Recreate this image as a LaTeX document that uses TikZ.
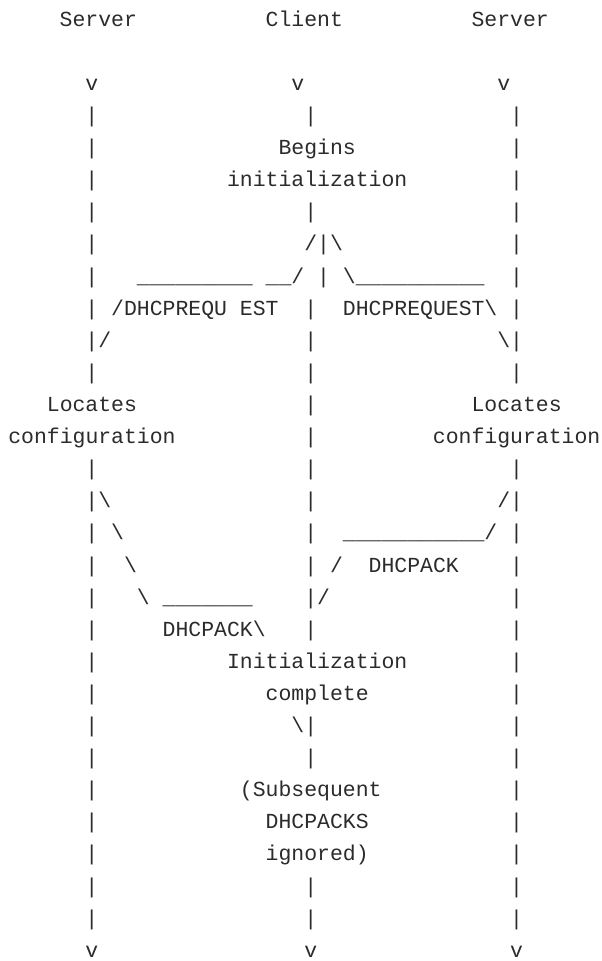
\documentclass[tikz,border=0pt]{standalone}
\usepackage{fontspec}
\newfontfamily\asciifont{Liberation Mono}
\definecolor{ink}{HTML}{2B2B2B}
\newcommand\bsl{\textbackslash}
\newcommand\usc{\textunderscore}

\begin{document}
\begin{tikzpicture}
  [
  x=9.6525pt, y=-24.075pt,
  txt/.style={anchor=base west, inner sep=0pt, text=ink,
    font=\asciifont\fontsize{16.09pt}{16.09pt}\selectfont},
  ]
  \useasboundingbox (-0.6216,-0.819) rectangle (46.076,29.118);

  % column heads
  \node[txt] (srvL) at (4,0) {Server};
  \node[txt] (cli)  at (20,0) {Client};
  \node[txt] (srvR) at (36,0) {Server};
  \node[txt] (vL) at (6,2) {v};
  \node[txt] (vC) at (22,2) {v};
  \node[txt] (vR) at (38,2) {v};

  % life lines
  \foreach \r in {3,...,11} {
    \node[txt] (lS\r) at (6,\r) {|};
    \node[txt] (rS\r) at (39,\r) {|};
  }
  \foreach \r in {14,...,28} {
    \node[txt] (lS\r) at (6,\r) {|};
    \node[txt] (rS\r) at (39,\r) {|};
  }
  \foreach \r in {3,6,9,10,...,19,22,23,27,28} {
    \node[txt] (cC\r) at (23,\r) {|};
  }

  % client start
  \node[txt] (begins) at (21,4) {Begins};
  \node[txt] (init)   at (17,5) {initialization};
  \node[txt] (fork)   at (23,7) {/|\bsl};

  % DHCPREQUEST
  \node[txt] (reqLa) at (10,8) {\usc\usc\usc\usc\usc\usc\usc\usc\usc};
  \node[txt] (reqLb) at (20,8) {\usc\usc/};
  \node[txt] (cC8)   at (24,8) {|};
  \node[txt] (reqR)  at (26,8) {\bsl\usc\usc\usc\usc\usc\usc\usc\usc\usc\usc};
  \node[txt] (reqLt) at (8,9)  {/DHCPREQU};
  \node[txt] (reqLu) at (18,9) {EST};
  \node[txt] (reqRt) at (26,9) {DHCPREQUEST\bsl};
  \node[txt] (reqLe) at (7,10)  {/};
  \node[txt] (reqRe) at (38,10) {\bsl};

  % servers
  \node[txt] (locL) at (3,12)  {Locates};
  \node[txt] (cfgL) at (0,13)  {configuration};
  \node[txt] (locR) at (36,12) {Locates};
  \node[txt] (cfgR) at (33,13) {configuration};

  % DHCPACK
  \node[txt] (ackLa) at (7,15)  {\bsl};
  \node[txt] (ackLb) at (8,16)  {\bsl};
  \node[txt] (ackLc) at (9,17)  {\bsl};
  \node[txt] (ackLd) at (10,18) {\bsl};
  \node[txt] (ackLe) at (12,18) {\usc\usc\usc\usc\usc\usc\usc};
  \node[txt] (ackLt) at (12,19) {DHCPACK\bsl};
  \node[txt] (ackRa) at (38,15) {/};
  \node[txt] (ackRb) at (26,16) {\usc\usc\usc\usc\usc\usc\usc\usc\usc\usc\usc/};
  \node[txt] (ackRc) at (25,17) {/};
  \node[txt] (ackRt) at (28,17) {DHCPACK};
  \node[txt] (ackRd) at (24,18) {/};

  % client done
  \node[txt] (done)  at (17,20) {Initialization};
  \node[txt] (done2) at (20,21) {complete};
  \node[txt] (doneE) at (22,22) {\bsl};
  \node[txt] (ign)   at (18,24) {(Subsequent};
  \node[txt] (ign2)  at (20,25) {DHCPACKS};
  \node[txt] (ign3)  at (20,26) {ignored)};

  % ends
  \node[txt] (eL) at (6,29)  {v};
  \node[txt] (eC) at (23,29) {v};
  \node[txt] (eR) at (39,29) {v};
\end{tikzpicture}
\end{document}
